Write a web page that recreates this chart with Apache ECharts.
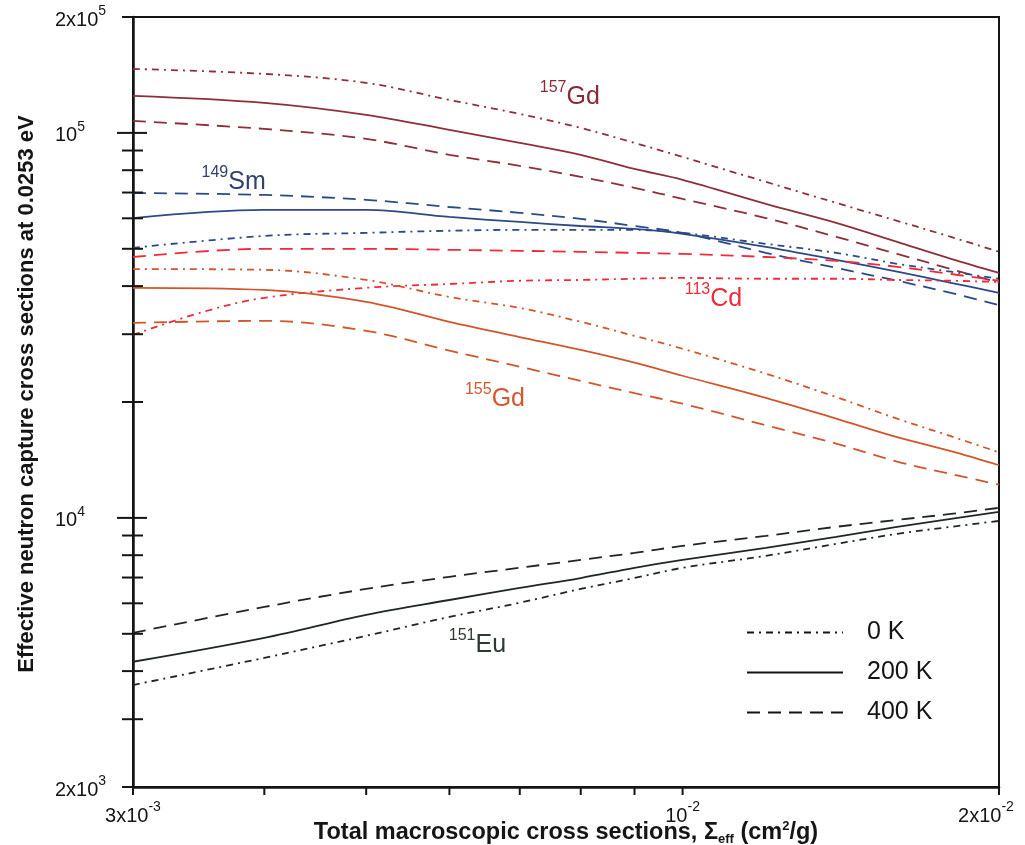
<!DOCTYPE html>
<html>
<head>
<meta charset="utf-8">
<title>Effective neutron capture cross sections</title>
<script src="https://cdn.jsdelivr.net/npm/echarts@6/dist/echarts.min.js"></script>
<style>
  html, body { margin: 0; padding: 0; background: #fff; }
  #chart { width: 1025px; height: 845px; }
</style>
</head>
<body>
<div id="chart"></div>
<script>
// x: total macroscopic cross section (cm2/g)
const xValues = [0.003, 0.004, 0.005, 0.006, 0.007, 0.008, 0.009, 0.01, 0.012, 0.014, 0.016, 0.018, 0.02];
const xValuesCd0K = [0.003, 0.0035, 0.004, 0.005, 0.006, 0.007, 0.008, 0.009, 0.01, 0.012, 0.014, 0.016, 0.018, 0.02];

// effective capture cross sections (barn)
const gd157_0K   = [146600, 142300, 134900, 121800, 112000, 103000, 94200, 86600, 74600, 65800, 59100, 53700, 49100];
const gd157_200K = [124800, 119700, 111400, 101800, 94200, 87700, 80600, 75500, 65400, 58400, 52100, 47100, 43300];
const gd157_400K = [107400, 102400, 96500, 87700, 82100, 76900, 72000, 67400, 60100, 53700, 48500, 44300, 40800];

const sm149_0K   = [50300, 54000, 55000, 55700, 56000, 56000, 56000, 55000, 51500, 48800, 45700, 43600, 41800];
const sm149_200K = [60100, 63100, 63100, 60500, 58700, 57300, 56300, 54700, 50600, 46800, 43600, 40800, 38400];
const sm149_400K = [69800, 69000, 67000, 64200, 62000, 59800, 57300, 55000, 48800, 44600, 41300, 38400, 35700];

const cd113_0K   = [29900, 34300, 37300, 39600, 40500, 41300, 41500, 41800, 42000, 41800, 41800, 41500, 41300, 41000];
const cd113_400K = [47600, 50000, 50000, 49700, 49400, 49100, 48800, 48500, 47600, 46500, 44900, 43000, 41300];

const gd155_0K   = [44300, 44100, 41500, 37500, 35100, 32300, 29700, 27500, 23700, 20600, 18100, 16300, 14800];
const gd155_200K = [39600, 39100, 36400, 32300, 29500, 27300, 25300, 23400, 20500, 18100, 16200, 14900, 13700];
const gd155_400K = [32100, 32500, 30600, 27200, 24700, 22700, 21100, 19800, 17400, 15600, 14000, 13000, 12200];

const eu151_0K   = [3680, 4330, 4940, 5530, 6020, 6540, 6980, 7420, 7970, 8560, 9090, 9480, 9820];
const eu151_200K = [4230, 4880, 5600, 6120, 6580, 6980, 7420, 7780, 8360, 8930, 9480, 9940, 10360];
const eu151_400K = [5030, 5870, 6540, 7030, 7420, 7780, 8110, 8460, 8980, 9480, 9880, 10240, 10620];

// axes
const X_MIN = 0.003, X_MAX = 0.02;
const Y_MIN = 2000, Y_MAX = 200000;
const xTicks = [0.003, 0.004, 0.005, 0.006, 0.007, 0.008, 0.009, 0.01, 0.02];
const yMajorTicks = [10000, 100000];
const yMinorTicks = [2000, 3000, 4000, 5000, 6000, 7000, 8000, 9000,
                     20000, 30000, 40000, 50000, 60000, 70000, 80000, 90000, 200000];
const xLabelValues = [0.003, 0.01, 0.02];
const xLabelTexts = ['{b|3x10}{s|-3}', '{b|10}{s|-2}', '{b|2x10}{s|-2}{pad|}'];
const yLabelValues = [2000, 10000, 100000, 200000];
const yLabelTexts = ['{b|2x10}{s|3}', '{b|10}{s|4}', '{b|10}{s|5}', '{b|2x10}{s|5}'];

const legendNames = ['0 K', '200 K', '400 K'];

const FONT = '"Liberation Sans", Arial, Helvetica, sans-serif';
const INK = '#151515';
const DASH_0K = [7, 5, 2, 5];
const DASH_400K = [13, 8];
const STYLE_BY_T = { '0 K': DASH_0K, '200 K': 'solid', '400 K': DASH_400K };

const tickRich = {
  b: { fontSize: 20, fontFamily: FONT, color: INK, lineHeight: 26, verticalAlign: 'bottom' },
  s: { fontSize: 14, fontFamily: FONT, color: INK, lineHeight: 14, verticalAlign: 'top' },
  pad: { width: 26 }
};

function pickLabel(values, texts) {
  return function (val) {
    const i = values.findIndex(v => Math.abs(v - val) / v < 1e-6);
    return i >= 0 ? texts[i] : '';
  };
}

function isoLabel(sup, sym, color, coord) {
  return {
    symbol: 'circle',
    symbolSize: 0,
    silent: true,
    itemStyle: { color: 'transparent' },
    label: {
      show: true,
      position: 'inside',
      formatter: '{s|' + sup + '}{b|' + sym + '}',
      rich: {
        b: { fontSize: 25, fontFamily: FONT, color: color, lineHeight: 30, verticalAlign: 'bottom' },
        s: { fontSize: 16, fontFamily: FONT, color: color, lineHeight: 16, verticalAlign: 'top' }
      }
    },
    data: [{ coord: coord }]
  };
}

function curve(name, temp, xs, ys, color, mark) {
  const s = {
    name: name + ' ' + temp,
    type: 'line',
    data: xs.map((x, i) => [x, ys[i]]),
    symbol: 'none',
    smooth: 0.35,
    silent: true,
    itemStyle: { color: color },
    lineStyle: { color: color, width: 1.8, type: STYLE_BY_T[temp] }
  };
  if (mark) s.markPoint = mark;
  return s;
}

function tickSeries(data, draw) {
  return {
    type: 'custom',
    silent: true,
    clip: false,
    z: 5,
    data: data,
    renderItem: (params, api) => draw(api.coord([api.value(0), api.value(1)]))
  };
}

const tickLine = (x1, y1, x2, y2) => ({
  type: 'line',
  shape: { x1: x1, y1: y1, x2: x2, y2: y2 },
  style: { stroke: INK, lineWidth: 2 }
});

const C_GD157 = '#8e2f3a', C_SM149 = '#2c4a85', C_CD113 = '#ee2b3b', C_GD155 = '#d2562c', C_EU151 = '#1e2820';

const series = [
  curve('157Gd', '0 K', xValues, gd157_0K, C_GD157),
  curve('157Gd', '200 K', xValues, gd157_200K, C_GD157, isoLabel('157', 'Gd', '#8a2a38', [0.00781, 125500])),
  curve('157Gd', '400 K', xValues, gd157_400K, C_GD157),
  curve('149Sm', '0 K', xValues, sm149_0K, C_SM149),
  curve('149Sm', '200 K', xValues, sm149_200K, C_SM149, isoLabel('149', 'Sm', '#33416b', [0.00374, 75500])),
  curve('149Sm', '400 K', xValues, sm149_400K, C_SM149),
  curve('113Cd', '0 K', xValuesCd0K, cd113_0K, C_CD113, isoLabel('113', 'Cd', '#ee2b3b', [0.0107, 37500])),
  curve('113Cd', '400 K', xValues, cd113_400K, C_CD113),
  curve('155Gd', '0 K', xValues, gd155_0K, C_GD155),
  curve('155Gd', '200 K', xValues, gd155_200K, C_GD155, isoLabel('155', 'Gd', '#d4582e', [0.00663, 20600])),
  curve('155Gd', '400 K', xValues, gd155_400K, C_GD155),
  curve('151Eu', '0 K', xValues, eu151_0K, C_EU151),
  curve('151Eu', '200 K', xValues, eu151_200K, C_EU151, isoLabel('151', 'Eu', '#2c3a30', [0.00638, 4730])),
  curve('151Eu', '400 K', xValues, eu151_400K, C_EU151),
  // legend entries (line only, symbol hidden)
  ...legendNames.map(t => ({
    name: t, type: 'line', data: [], symbol: 'none', silent: true,
    itemStyle: { color: 'transparent', opacity: 0 },
    lineStyle: { color: INK, width: 1.8, type: STYLE_BY_T[t] }
  })),
  // log ticks
  tickSeries(yMinorTicks.map(v => [X_MIN, v]), p => tickLine(p[0] - 11, p[1], p[0] + 10, p[1])),
  tickSeries(yMajorTicks.map(v => [X_MIN, v]), p => tickLine(p[0] - 16, p[1], p[0] + 14, p[1])),
  tickSeries(xTicks.map(v => [v, Y_MIN]), p => tickLine(p[0], p[1], p[0], p[1] + 8))
];

const chart = echarts.init(document.getElementById('chart'), null, { renderer: 'canvas' });
chart.setOption({
  animation: false,
  backgroundColor: '#fff',
  textStyle: { fontFamily: FONT },
  grid: {
    left: 133, right: 26, top: 17, bottom: 58,
    show: true, borderColor: INK, borderWidth: 2,
    outerBoundsMode: 'none'
  },
  legend: {
    data: legendNames,
    orient: 'vertical',
    left: 746, top: 620,
    padding: 0,
    itemWidth: 96, itemHeight: 26, itemGap: 15,
    selectedMode: false,
    itemStyle: { opacity: 0 },
    lineStyle: { opacity: 1 },
    textStyle: { fontSize: 25, fontFamily: FONT, color: INK, padding: [0, 0, 0, 19] }
  },
  xAxis: {
    type: 'log', logBase: 10, min: X_MIN, max: X_MAX,
    axisLine: { show: true, lineStyle: { color: INK, width: 2.5 } },
    axisTick: { show: false },
    minorTick: { show: false },
    splitLine: { show: false },
    axisLabel: {
      margin: 13, showMinLabel: true, showMaxLabel: true,
      formatter: pickLabel(xLabelValues, xLabelTexts), rich: tickRich
    },
    name: '{t|Total macroscopic cross sections, Σ}{sub|eff}{t| (cm}{sup|2}{t|/g)}',
    nameLocation: 'middle', nameGap: 33, nameMoveOverlap: false,
    nameTextStyle: {
      rich: {
        t: { fontSize: 23.5, fontWeight: 'bold', fontFamily: FONT, color: INK, lineHeight: 26, verticalAlign: 'middle' },
        sub: { fontSize: 13, fontWeight: 'bold', fontFamily: FONT, color: INK, lineHeight: 8, verticalAlign: 'bottom' },
        sup: { fontSize: 13, fontWeight: 'bold', fontFamily: FONT, color: INK, lineHeight: 13, verticalAlign: 'top' }
      }
    }
  },
  yAxis: {
    type: 'log', logBase: 10, min: Y_MIN, max: Y_MAX,
    axisLine: { show: true, lineStyle: { color: INK, width: 2.5 } },
    axisTick: { show: false },
    minorTick: { show: false },
    splitLine: { show: false },
    axisLabel: {
      align: 'left', margin: 78, showMinLabel: true, showMaxLabel: true,
      formatter: pickLabel(yLabelValues, yLabelTexts), rich: tickRich
    },
    name: 'Effective neutron capture cross sections at 0.0253 eV',
    nameLocation: 'middle', nameGap: 95, nameMoveOverlap: false,
    nameTextStyle: {
      fontSize: 22, fontWeight: 'bold', fontFamily: FONT, color: INK,
      padding: [0, 0, 0, 16]
    }
  },
  series: series
});
</script>
</body>
</html>
